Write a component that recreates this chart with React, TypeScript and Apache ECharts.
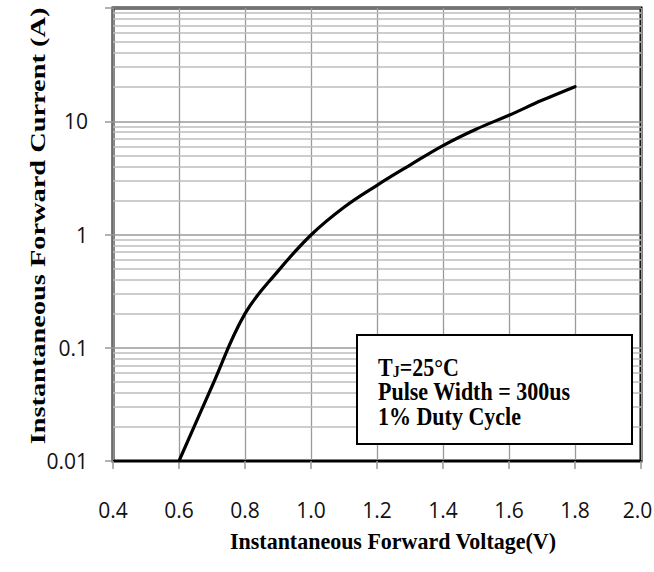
import React, { useEffect, useRef } from "react";
import * as echarts from "echarts";

// Forward voltage (V) and instantaneous forward current (A)
const voltage = [0.6, 0.7, 0.8, 0.9, 1.0, 1.1, 1.2, 1.3, 1.4, 1.5, 1.6, 1.7, 1.8];
const current = [0.01, 0.0457, 0.2, 0.475, 0.99, 1.74, 2.72, 4.1, 6.1, 8.5, 11.3, 15.3, 20.2];

const xMin = 0.4;
const xMax = 2.0;
const xInterval = 0.2;
const yMin = 0.01;
const yMax = 100;
const yDecades = [0.01, 0.1, 1, 10];
const minorMultipliers = [2, 3, 4, 5, 6, 7, 8, 9];

const xAxisTitle = "Instantaneous Forward Voltage(V)";
const yAxisTitle = "Instantaneous Forward Current (A)";
const noteLines = ["Pulse Width = 300us", "1% Duty Cycle"];

const serif = '"Liberation Serif", "Times New Roman", serif';
const sans = '"Open Sans", "Noto Sans", sans-serif';

export default function App() {
  const ref = useRef<HTMLDivElement>(null);

  useEffect(() => {
    document.body.style.margin = "0";
    document.body.style.overflow = "hidden";
    if (!ref.current) return;
    const chart = echarts.init(ref.current, null, { renderer: "svg" });

    const minorValues: number[] = [];
    yDecades.forEach((d) => minorMultipliers.forEach((m) => minorValues.push(+(d * m).toPrecision(3))));

    const data = voltage.map((v, i) => [v, current[i]]);

    chart.setOption({
      animation: false,
      backgroundColor: "#ffffff",
      grid: {
        left: 113,
        right: 13,
        top: 8,
        bottom: 111,
        containLabel: false,
        outerBoundsMode: "none",
        show: true,
        borderColor: "#000",
        borderWidth: 3,
        backgroundColor: "transparent",
      },
      xAxis: {
        type: "value",
        min: xMin,
        max: xMax,
        interval: xInterval,
        axisLine: { show: true, onZero: false, lineStyle: { color: "#000", width: 2 } },
        axisTick: { show: true, length: 8, lineStyle: { color: "#999", width: 1.5 } },
        axisLabel: {
          margin: 38,
          fontFamily: sans,
          fontSize: 21,
          lineHeight: 21,
          color: "#111",
          formatter: (v: number) => (v >= xMax ? `{last|${v.toFixed(1)}}` : v.toFixed(1)),
          rich: {
            last: { fontFamily: sans, fontSize: 21, lineHeight: 21, color: "#111", padding: [0, 7, 0, 0] },
          },
        },
        splitLine: { show: true, lineStyle: { color: "#9a9a9a", width: 1.3 } },
      },
      yAxis: {
        type: "log",
        logBase: 10,
        min: yMin,
        max: yMax,
        axisLine: { show: true, lineStyle: { color: "#888", width: 1.5 } },
        axisTick: { show: true, length: 8, lineStyle: { color: "#999", width: 1.5 } },
        axisLabel: {
          margin: 25,
          fontFamily: sans,
          fontSize: 21,
          color: "#111",
          formatter: (v: number) => (v >= yMax ? "" : String(+v.toPrecision(3))),
        },
        splitLine: { show: true, lineStyle: { color: "#9a9a9a", width: 1.5 } },
      },
      series: [
        {
          type: "line",
          data,
          smooth: 0.4,
          symbol: "none",
          lineStyle: { color: "#000", width: 3.2, join: "round", cap: "round" },
          z: 5,
          markLine: {
            silent: true,
            symbol: ["none", "none"],
            label: { show: false },
            lineStyle: { color: "#bdbdbd", type: "solid", width: 1.5 },
            z: 1,
            data: minorValues.map((v) => ({ yAxis: v })),
          },
        },
      ],
      graphic: [
        {
          type: "rect",
          z: 100,
          shape: { x: 357, y: 335, width: 275, height: 109 },
          style: { fill: "#fff", stroke: "#000", lineWidth: 2 },
        },
        {
          type: "text",
          z: 101,
          x: 378,
          y: 365,
          scaleY: 1.14,
          style: {
            text: "{t|T}{s|J}{t|=25°C}",
            verticalAlign: "middle",
            rich: {
              t: { fontFamily: serif, fontWeight: "bold", fontSize: 22, lineHeight: 26, fill: "#000", verticalAlign: "bottom" },
              s: { fontFamily: serif, fontWeight: "bold", fontSize: 14, lineHeight: 14, fill: "#000", verticalAlign: "bottom" },
            },
          },
        },
        ...noteLines.map((line, i) => ({
          type: "text",
          z: 101,
          x: 378,
          y: 391 + i * 25.5,
          scaleY: 1.14,
          style: {
            text: line,
            fontFamily: serif,
            fontWeight: "bold",
            fontSize: 22,
            fill: "#000",
            verticalAlign: "middle",
          },
        })),
        {
          type: "text",
          x: 393,
          y: 541,
          scaleY: 1.08,
          style: {
            text: xAxisTitle,
            fontFamily: serif,
            fontWeight: "bold",
            fontSize: 22,
            fill: "#000",
            align: "center",
            verticalAlign: "middle",
          },
        },
        {
          type: "text",
          x: 37,
          y: 226,
          rotation: Math.PI / 2,
          scaleX: 1.29,
          style: {
            text: yAxisTitle,
            fontFamily: serif,
            fontWeight: "bold",
            fontSize: 22,
            fill: "#000",
            align: "center",
            verticalAlign: "middle",
          },
        },
      ],
    });

    return () => chart.dispose();
  }, []);

  return (
    <div
      ref={ref}
      style={{ position: "absolute", left: 0, top: 0, width: 654, height: 572, background: "#fff" }}
    />
  );
}
